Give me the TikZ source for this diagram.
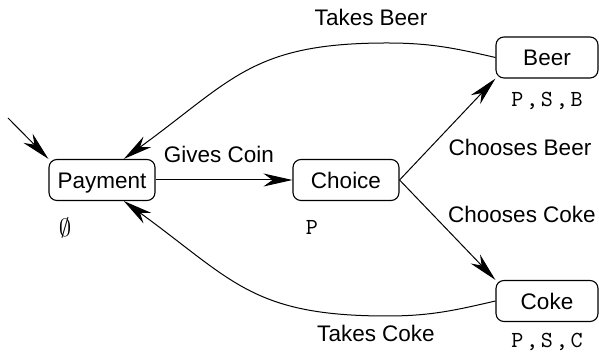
\documentclass[tikz,border=0pt]{standalone}
\usepackage{fontspec}
\setmainfont{Liberation Sans}
\newfontfamily\monof[LetterSpace=12]{lmmono10-regular.otf}
\usetikzlibrary{arrows.meta}
\begin{document}
\begin{tikzpicture}[x=1pt,y=1pt,
  state/.style={draw, line width=1.1pt, rounded corners=8pt, minimum height=41pt,
    inner sep=0pt, text height=16.1pt, text depth=0pt, font=\fontsize{22.5}{27}\selectfont},
  wide/.style={minimum width=106pt},
  narrow/.style={minimum width=102pt},
  lab/.style={font=\fontsize{22.5}{27}\selectfont, inner sep=0pt},
  mono/.style={font=\monof\fontsize{23}{28}\selectfont, inner sep=0pt},
  arr/.style={-{Stealth[length=29pt,width=13pt,inset=9pt]}, line width=1pt}]
\useasboundingbox (0,0) rectangle (599,352);
\node[state,wide] (Payment) at (102,172) {Payment};
\node[state,wide] (Choice) at (346,172) {Choice};
\node[state,narrow] (Beer) at (547,294.5) {Beer};
\node[state,narrow] (Coke) at (547,51) {Coke};
\coordinate (init) at (8,234);
\coordinate (tb) at (387,309);
\coordinate (tc) at (387,36);
\draw[arr] (init) -- (Payment.north west);
\draw[arr] (Payment) -- (Choice);
\draw[arr] (Choice.east) -- (Beer.south west);
\draw[arr] (Choice.east) -- (Coke.north west);
\draw[arr] (Beer.west) to[out=167,in=0] (tb) to[out=180,in=36,looseness=1.2] (Payment.44);
\draw[arr] (Coke.west) to[out=193,in=0] (tc) to[out=180,in=-36,looseness=1.2] (Payment.-44);
\node[lab] (lTB) at (371,335) {Takes Beer};
\node[lab] (lTC) at (376,19) {Takes Coke};
\node[lab] (lGC) at (219,198) {Gives Coin};
\node[lab] (lCB) at (520,205) {Chooses Beer};
\node[lab] (lCC) at (522,138) {Chooses Coke};
\node[inner sep=0pt, font=\fontsize{25}{30}\selectfont] (sP) at (65,124) {$\emptyset$};
\node[mono] (sC) at (312,125) {P};
\node[mono] (sB) at (547,251) {P,S,B};
\node[mono] (sK) at (547,10) {P,S,C};
\end{tikzpicture}
\end{document}
